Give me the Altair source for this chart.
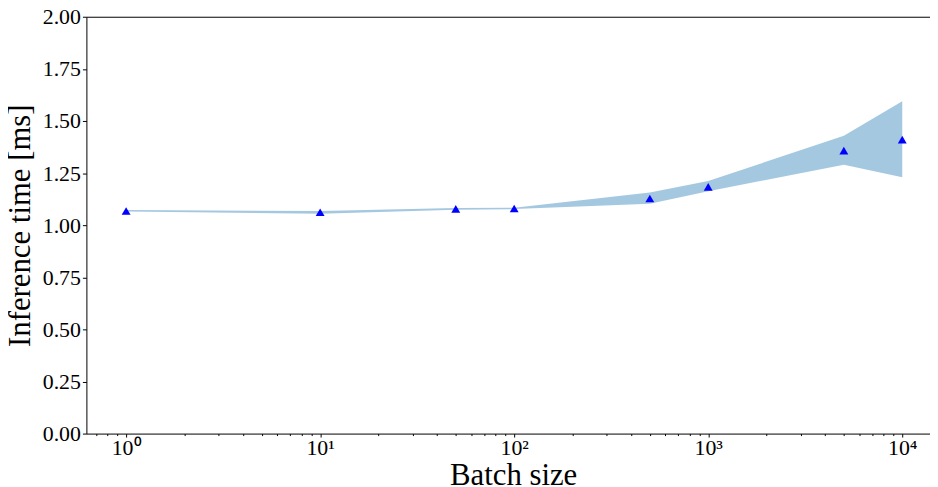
import altair as alt
import pandas as pd

# ---- data ----
batch = [1, 10, 50, 100, 500, 1000, 5000, 10000]
mean_ms = [1.068, 1.062, 1.078, 1.080, 1.128, 1.184, 1.358, 1.410]
upper_ms = [1.073, 1.068, 1.082, 1.084, 1.157, 1.212, 1.429, 1.595]
lower_ms = [1.065, 1.055, 1.074, 1.077, 1.103, 1.163, 1.290, 1.230]

x_major = [1, 10, 100, 1000, 10000]
x_major_labels = ["10\u2070", "10\u00b9", "10\u00b2", "10\u00b3", "10\u2074"]
y_ticks = [0.0, 0.25, 0.5, 0.75, 1.0, 1.25, 1.5, 1.75, 2.0]

df = pd.DataFrame({"batch": batch, "mean": mean_ms, "upper": upper_ms, "lower": lower_ms})

# visible x range (log10 -0.2046 .. 4.143)
x_domain = [10 ** -0.2046, 10 ** 4.143]
x_minor = [k * 10 ** d for d in range(-1, 4) for k in range(2, 10)
           if x_domain[0] <= k * 10 ** d <= x_domain[1]]
x_minor = [round(v, 6) for v in x_minor]
x_values = sorted(set(x_minor + x_major))

label_expr = " : ".join(
    f"datum.value == {v} ? '{lab}'" for v, lab in zip(x_major, x_major_labels)
) + " : ''"
major_test = "indexof([" + ",".join(str(v) for v in x_major) + "], datum.value) >= 0"

FONT = "Liberation Serif"

x_scale = alt.Scale(type="log", domain=x_domain, nice=False)
y_scale = alt.Scale(domain=[0, 2], nice=False, zero=False)

y_axis = alt.Axis(
    values=y_ticks, format=".2f", title="Inference time [ms]",
    tickSize=4, labelPadding=2, grid=False, titlePadding=6,
)

band = alt.Chart(df).mark_area(color="#a5c8e1", opacity=1, interpolate="linear").encode(
    x=alt.X("batch:Q", scale=x_scale, axis=alt.Axis(
        values=x_values, labelExpr=label_expr, labelOverlap=False,
        tickSize={"condition": {"test": major_test, "value": 3.5}, "value": 2},
        labelPadding=1, title="Batch size", titlePadding=2, grid=False,
        titleX=430,
    )),
    y=alt.Y("upper:Q", scale=y_scale, axis=y_axis),
    y2="lower:Q",
)

points = alt.Chart(df).mark_point(
    shape="triangle-up", filled=True, color="#0000ff", size=80, opacity=1
).encode(
    x=alt.X("batch:Q", scale=x_scale, axis=alt.Axis(
        orient="top", labels=False, ticks=False, title=None, grid=False)),
    y=alt.Y("mean:Q", scale=y_scale, axis=y_axis),
)

chart = alt.layer(band, points).resolve_axis(x="independent").properties(
    width=850, height=420,
    autosize=alt.AutoSizeParams(type="none"),
    padding={"left": 79, "top": 7, "right": 0, "bottom": 52},
).configure_view(stroke=None).configure_axis(
    labelFont=FONT, titleFont=FONT, labelFontSize=22, titleFontSize=31,
    labelColor="black", titleColor="black", titleFontWeight="normal",
    domainColor="black", tickColor="black", domainWidth=1, tickWidth=1,
)

chart.save("out.html", embed_options={"renderer": "svg", "actions": False})
